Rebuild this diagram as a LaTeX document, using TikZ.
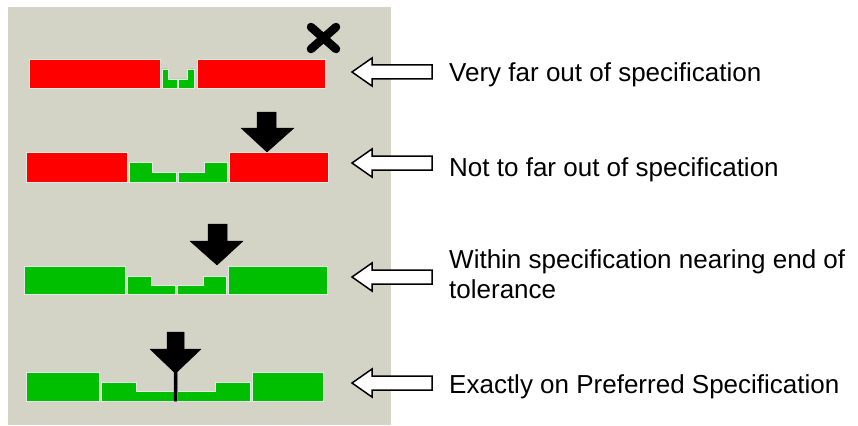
\documentclass[tikz,border=0pt]{standalone}
\usepackage{fontspec}
\setmainfont{Liberation Sans}
\definecolor{panel}{RGB}{212,212,198}
\definecolor{barred}{RGB}{255,0,0}
\definecolor{bargreen}{RGB}{0,190,0}
\definecolor{barline}{RGB}{225,235,228}
\tikzset{
  piece/.style={draw=barline, line width=0.8pt},
  redpiece/.style={piece, fill=barred},
  greenpiece/.style={piece, fill=bargreen},
  pointer/.style={fill=black, draw=black, line width=0.5pt, line join=round},
  hollow/.style={fill=white, draw=black, line width=1.5pt, line join=miter},
  lbl/.style={inner sep=0pt, anchor=base west, align=left, font=\fontsize{26}{30}\selectfont}
}
\newcommand{\hollowarrow}[1]{%
  \draw[hollow] (352,#1) -- (372,#1-14) -- (372,#1-7) -- (432,#1-7) -- (432,#1+7) -- (372,#1+7) -- (372,#1+14) -- cycle;}
\begin{document}
\begin{tikzpicture}[x=1pt,y=-1pt]
\useasboundingbox (0,0) rectangle (858,425);
\fill[white] (0,0) rectangle (858,425);
\fill[panel] (8,7) rectangle (391,425);

% Row 1: very far out
\draw[redpiece] (29,59) rectangle (160,88);
\draw[greenpiece] (162,69) -- (168,69) -- (168,79) -- (177,79) -- (177,88) -- (162,88) -- cycle;
\draw[greenpiece] (178,79) -- (187,79) -- (187,69) -- (194,69) -- (194,88) -- (178,88) -- cycle;
\draw[redpiece] (197,59) rectangle (325,88);
\draw[line width=8.5pt, line cap=round] (311,27) -- (336,49) (336,27) -- (311,49);

% Row 2: not too far out
\draw[redpiece] (26,152) rectangle (127,182);
\draw[greenpiece] (129,162) -- (152,162) -- (152,172) -- (176,172) -- (176,182) -- (129,182) -- cycle;
\draw[greenpiece] (178,172) -- (204,172) -- (204,162) -- (227,162) -- (227,182) -- (178,182) -- cycle;
\draw[redpiece] (229,152) rectangle (328,182);
\draw[pointer] (257,112) -- (276,112) -- (276,128) -- (294,128) -- (267,152) -- (241,128) -- (257,128) -- cycle;

% Row 3: within spec nearing end
\draw[greenpiece] (24,266) rectangle (125,294);
\draw[greenpiece] (127,276) -- (151,276) -- (151,285) -- (175,285) -- (175,294) -- (127,294) -- cycle;
\draw[greenpiece] (177,285) -- (203,285) -- (203,276) -- (226,276) -- (226,294) -- (177,294) -- cycle;
\draw[greenpiece] (228,266) rectangle (327,294);
\draw[pointer] (208,224) -- (227,224) -- (227,241) -- (243,241) -- (217,265) -- (190,241) -- (208,241) -- cycle;

% Row 4: exactly on preferred
\draw[greenpiece] (26,372) rectangle (99,401);
\draw[greenpiece] (101,382) -- (136,382) -- (136,391) -- (174,391) -- (174,401) -- (101,401) -- cycle;
\draw[greenpiece] (177,391) -- (215,391) -- (215,382) -- (250,382) -- (250,401) -- (177,401) -- cycle;
\draw[greenpiece] (252,372) rectangle (323,401);
\draw[pointer] (167,332) -- (184,332) -- (184,349) -- (201,349) -- (177,372) -- (177,401) -- (174,401) -- (174,372) -- (150,349) -- (167,349) -- cycle;

% Hollow arrows
\hollowarrow{72}
\hollowarrow{163}
\hollowarrow{277}
\hollowarrow{383}

% Labels
\node[lbl] (t1) at (449,82) {Very far out of specification};
\node[lbl] (t2) at (449,176) {Not to far out of specification};
\node[lbl] (t3) at (449,298) {Within specification nearing end of\\tolerance};
\node[lbl] (t4) at (449,393) {Exactly on Preferred Specification};
\end{tikzpicture}
\end{document}
